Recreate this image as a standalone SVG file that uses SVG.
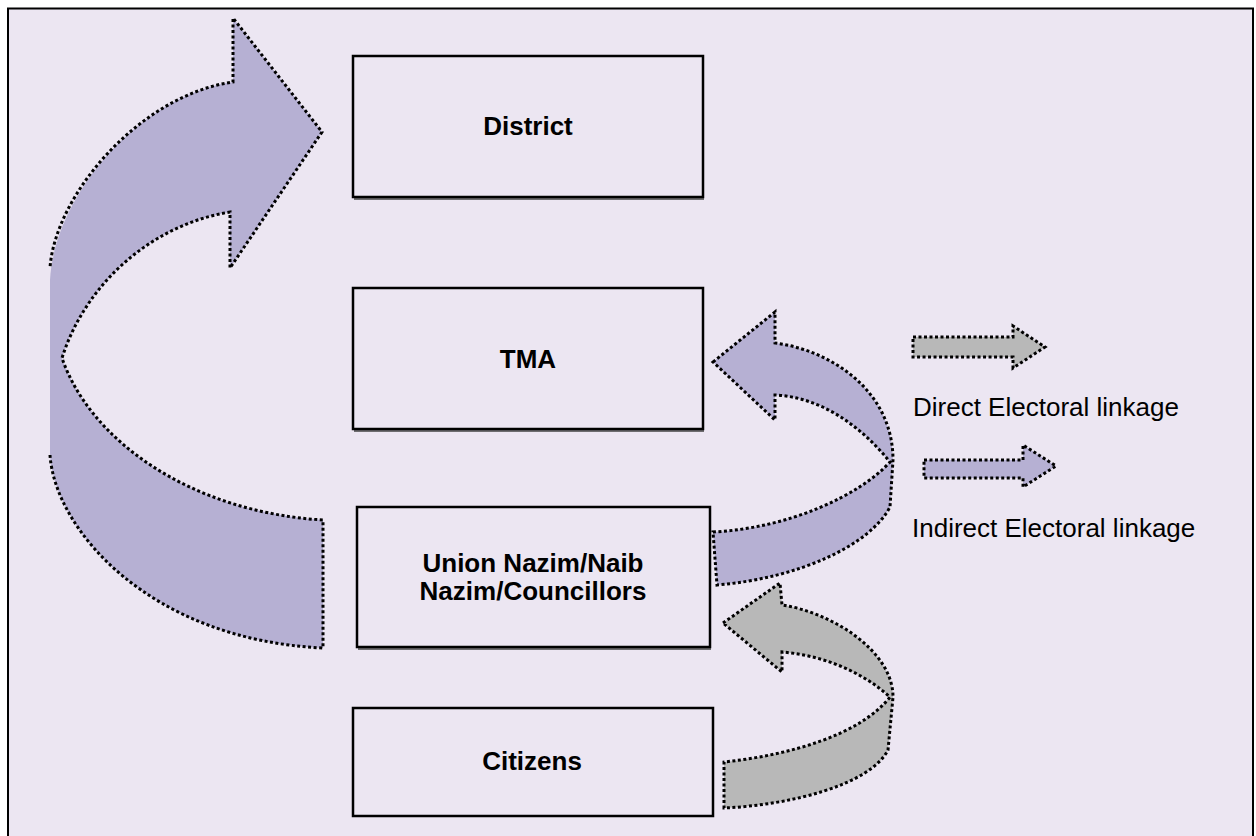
<svg xmlns="http://www.w3.org/2000/svg" width="1256" height="836" viewBox="0 0 1256 836">
<style>
.box{fill:none;stroke:#000;stroke-width:2.5}
.shadow{fill:none;stroke:#444;stroke-width:1.5}
.lbl{font-family:"Liberation Sans",Arial,sans-serif;font-size:26px;font-weight:bold;fill:#000;text-anchor:middle}
.leg{font-family:"Liberation Sans",Arial,sans-serif;font-size:26px;fill:#000}
.lav{fill:#B6B0D3;stroke:none}
.gry{fill:#B8B8B8;stroke:none}
.dot{fill:none;stroke:#000;stroke-width:3;stroke-dasharray:3 2.5;stroke-linejoin:miter}
</style>
<rect x="0" y="0" width="1256" height="836" fill="#FFFFFF"/>
<rect x="8" y="8.5" width="1245" height="840" fill="#ECE6F2" stroke="#000" stroke-width="2"/>

<g id="connectors">
  <g id="arrow-district">
    <path class="lav" d="M 50,455 C 55,530 150,640 323,648 L 323,520 C 190,512 90,440 62,358 C 85,285 150,225 230,212 L 230,268 L 322,132 L 233,18 L 233,82 C 140,95 55,195 50,280 Z"/>
    <path class="dot" d="M 50,455 C 55,530 150,640 323,648 L 323,520 C 190,512 90,440 62,358 C 85,285 150,225 230,212 L 230,268 L 322,132 L 233,18 L 233,82 C 140,95 55,195 50,268"/>
  </g>
  <g id="arrow-tma">
    <path class="lav" d="M 713,362 L 775,312 L 775,343 C 830,350 893,390 893,460 L 890,507 C 870,545 800,578 717,585 L 713,532 C 790,528 860,495 890,462 C 860,425 820,397 775,395 L 775,420 Z"/>
    <path class="dot" d="M 713,362 L 775,312 L 775,343 C 830,350 893,390 893,460 L 890,507 C 870,545 800,578 717,585 L 713,532 C 790,528 860,495 890,462 C 860,425 820,397 775,395 L 775,420 Z"/>
  </g>
  <g id="arrow-union">
    <path class="gry" d="M 723,623 L 780,583 L 782,605 C 830,612 893,650 893,697 L 888,750 C 870,785 790,805 724,808 L 724,762 C 790,755 860,735 890,697 C 860,670 820,655 782,652 L 782,672 Z"/>
    <path class="dot" d="M 723,623 L 780,583 L 782,605 C 830,612 893,650 893,697 L 888,750 C 870,785 790,805 724,808 L 724,762 C 790,755 860,735 890,697 C 860,670 820,655 782,652 L 782,672 Z"/>
  </g>
</g>

<g id="district">
  <line class="shadow" x1="354" y1="199" x2="704" y2="199"/>
  <rect class="box" x="353" y="56" width="350" height="141"/>
  <text class="lbl" x="528" y="135">District</text>
</g>
<g id="tma">
  <line class="shadow" x1="354" y1="431" x2="704" y2="431"/>
  <rect class="box" x="353" y="288" width="350" height="141"/>
  <text class="lbl" x="528" y="368">TMA</text>
</g>
<g id="union">
  <line class="shadow" x1="358" y1="649" x2="711" y2="649"/>
  <rect class="box" x="357" y="507" width="353" height="140"/>
  <text class="lbl" x="533" y="572">Union Nazim/Naib</text>
  <text class="lbl" x="533" y="600">Nazim/Councillors</text>
</g>
<g id="citizens">
  <rect class="box" x="353" y="708" width="360" height="108"/>
  <text class="lbl" x="532" y="770">Citizens</text>
</g>

<g id="legend">
  <path class="gry" d="M 913,337 L 1013,337 L 1013,326 L 1045,347 L 1013,368 L 1013,357 L 913,357 Z"/>
  <path class="dot" d="M 913,337 L 1013,337 L 1013,326 L 1045,347 L 1013,368 L 1013,357 L 913,357 Z"/>
  <text class="leg" x="913" y="416">Direct Electoral linkage</text>
  <path class="lav" d="M 924,460 L 1023,460 L 1023,445 L 1056,466 L 1023,487 L 1023,478 L 924,478 Z"/>
  <path class="dot" d="M 924,460 L 1023,460 L 1023,445 L 1056,466 L 1023,487 L 1023,478 L 924,478 Z"/>
  <text class="leg" x="912" y="537">Indirect Electoral linkage</text>
</g>
</svg>
